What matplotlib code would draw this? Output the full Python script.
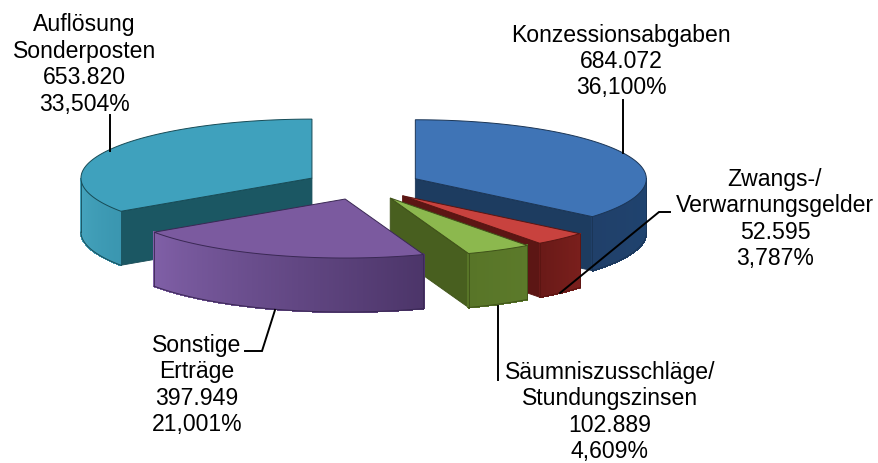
#!/usr/bin/env python3

import numpy as np
import matplotlib
matplotlib.use('Agg')
import matplotlib.pyplot as plt
from matplotlib.colors import to_rgb
from matplotlib.patches import Polygon

plt.rcParams['font.family'] = ['Liberation Sans', 'DejaVu Sans']

# Data, clockwise from 12 o'clock
names = ['Konzessionsabgaben', 'Zwangs-/\nVerwarnungsgelder',
         'Säumniszusschläge/\nStundungszinsen', 'Sonstige\nErträge',
         'Auflösung\nSonderposten']
values = [684072, 52595, 102889, 397949, 653820]
percents = [36.100, 3.787, 4.609, 21.001, 33.504]

# Colours per slice: top, radial wall, outer wall start, outer wall end
top_colors = ['#3f74b6', '#c8423e', '#8cb84e', '#7b5a9f', '#3fa1bd']
wall_colors = ['#1d3c60', '#5c1614', '#485f1f', '#4b3468', '#1b5763']
outer_start = ['#1f4470', '#7a1f1c', '#5c7a2a', '#4c3569', '#3a96b0']
outer_end = ['#20406a', '#6a1a18', '#587528', '#7f5fa6', '#46a5be']
edge_colors = ['#1b3555', '#5a1512', '#3f5219', '#3a2854', '#174b56']

# Pie geometry in pixels
cx, cy = 363, 185
rx, ry = 231, 59
depth = 54
explode = 0.25

# Labels: centre position of each text block
label_pos = [(621, 61.5), (775, 219), (610, 412), (197, 385), (84.5, 64.5)]

# Leader lines
leaders = [
    [(623, 100), (623, 153)],
    [(560, 293), (659, 212), (670, 212)],
    [(498, 306), (498, 380)],
    [(275, 310), (262, 351), (245, 351)],
    [(110, 115), (110, 151)],
]


def rim(theta, x0, y0):
    # point on the ellipse, theta in degrees clockwise from the top
    t = np.radians(theta)
    return x0 + rx * np.sin(t), y0 - ry * np.cos(t)


fig = plt.figure(figsize=(8.79, 4.63), dpi=100)
ax = fig.add_axes([0, 0, 1, 1])
ax.set_xlim(0, 879)
ax.set_ylim(463, 0)
ax.axis('off')

# Slice angles, the last slice closes the circle
ends = np.cumsum(percents) * 3.6
ends[-1] = 360
starts = np.concatenate([[0], ends[:-1]])

# back slices first, the purple one sits in front of all others
for i in [4, 0, 1, 2, 3]:
    a0, a1 = starts[i], ends[i]
    mid = (a0 + a1) / 2
    x0 = cx + explode * rx * np.sin(np.radians(mid))
    y0 = cy - explode * ry * np.cos(np.radians(mid))
    z = 2 + [4, 0, 1, 2, 3].index(i) * 5

    # radial walls, only the ones facing the viewer
    for a, visible in ((a0, np.sin(np.radians(a0)) < -1e-6),
                       (a1, np.sin(np.radians(a1)) > 1e-6)):
        if visible:
            xr, yr = rim(a, x0, y0)
            ax.add_patch(Polygon([(x0, y0), (xr, yr), (xr, yr + depth), (x0, y0 + depth)],
                                 fc=wall_colors[i], ec=edge_colors[i], lw=0.6, zorder=z))

    # outer wall, shaded in small strips
    lo, hi = max(a0, 90), min(a1, 270)
    if hi > lo:
        steps = max(int(hi - lo), 2) * 2
        angles = np.linspace(lo, hi, steps + 1)
        c0, c1 = np.array(to_rgb(outer_start[i])), np.array(to_rgb(outer_end[i]))
        for k in range(steps):
            f = k / (steps - 1)
            col = c0 + (c1 - c0) * f
            xa, ya = rim(angles[k], x0, y0)
            xb, yb = rim(angles[k + 1], x0, y0)
            ax.add_patch(Polygon([(xa, ya), (xb, yb), (xb, yb + depth), (xa, ya + depth)],
                                 fc=col, ec=col, lw=0.8, antialiased=False, zorder=z + 1))
        xs, ys = rim(angles, x0, y0)
        ax.plot(xs, ys + depth, color=edge_colors[i], lw=0.7, zorder=z + 2)
        for xe, ye in ((xs[0], ys[0]), (xs[-1], ys[-1])):
            ax.plot([xe, xe], [ye, ye + depth], color=edge_colors[i], lw=0.6, zorder=z + 2)

    # top face
    angles = np.linspace(a0, a1, max(int(a1 - a0), 2) + 1)
    xs, ys = rim(angles, x0, y0)
    pts = [(x0, y0)] + list(zip(xs, ys))
    ax.add_patch(Polygon(pts, fc=top_colors[i], ec=edge_colors[i], lw=0.7, zorder=z + 3))

# Leader lines
for line in leaders:
    xs, ys = zip(*line)
    ax.plot(xs, ys, color='black', lw=1.4, zorder=40, solid_joinstyle='miter')

# Labels
for name, value, pct, pos in zip(names, values, percents, label_pos):
    value_text = f'{value:,}'.replace(',', '.')
    pct_text = f'{pct:.3f}%'.replace('.', ',')
    ax.text(pos[0], pos[1], f'{name}\n{value_text}\n{pct_text}', ha='center', va='center',
            fontsize=16.6, linespacing=1.19, color='black', zorder=50)

fig.savefig('out.png', dpi=100)
